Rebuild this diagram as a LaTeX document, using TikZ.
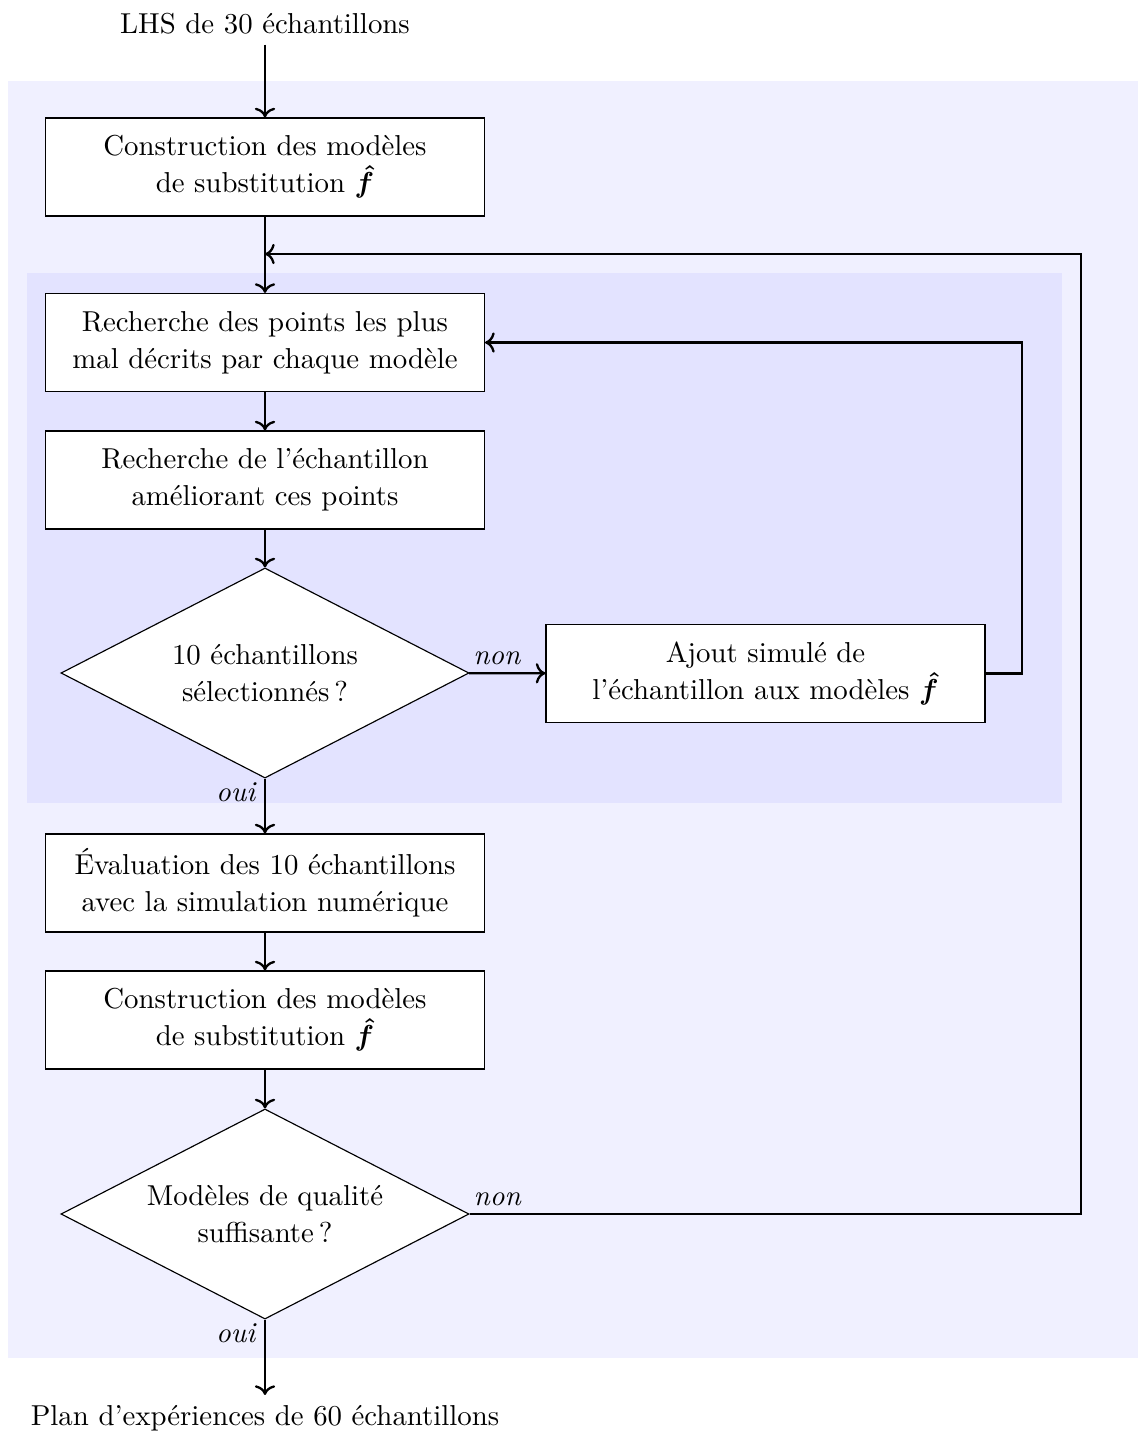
\documentclass[tikz,border=0pt]{standalone}
\usepackage{bm}
\usetikzlibrary{shapes.geometric,arrows.meta}
\begin{document}
\begin{tikzpicture}[x=0.347pt,y=-0.347pt,
  box/.style={draw,fill=white,thin,minimum width=152.3pt,minimum height=34pt,align=center,inner sep=0pt},
  dec/.style={draw,fill=white,diamond,thin,minimum width=141.6pt,minimum height=72.9pt,align=center,inner sep=0pt,aspect=2},
  conn/.style={thick,->},
  nolab/.style={font=\itshape,anchor=south west,inner xsep=1pt,inner ysep=2.5pt},
  yeslab/.style={font=\itshape,anchor=north east,inner xsep=3pt,inner ysep=1pt}]
\useasboundingbox (0,0) rectangle (1138,1432);
\fill[blue!6] (8,81) rectangle (1138,1358);
\fill[blue!11] (27,273) rectangle (1062,803);

\node (lhs) at (265,24) {LHS de 30 échantillons};
\node[box] (b1) at (265,167) {Construction des modèles\\[0.8pt]de substitution $\bm{\hat{f}}$};
\node[box] (b2) at (265,342.5) {Recherche des points les plus\\[0.8pt]mal décrits par chaque modèle};
\node[box] (b3) at (265,480) {Recherche de l'échantillon\\[0.8pt]améliorant ces points};
\node[dec] (d1) at (265,673) {10 échantillons\\[0.8pt]sélectionnés\thinspace?};
\node[box] (b4) at (765.5,673.5) {Ajout simulé de\\[0.8pt]l'échantillon aux modèles $\bm{\hat{f}}$};
\node[box] (b5) at (265,883) {Évaluation des 10 échantillons\\[0.8pt]avec la simulation numérique};
\node[box] (b6) at (265,1020) {Construction des modèles\\[0.8pt]de substitution $\bm{\hat{f}}$};
\node[dec] (d2) at (265,1214) {Modèles de qualité\\[0.8pt]suffisante\thinspace?};
\node (plan) at (265,1418) {Plan d'expériences de 60 échantillons};

\coordinate (j) at (265,254);
\coordinate (c1) at (1022,342.5);
\coordinate (c2) at (1081,254);

\draw[conn] (lhs) -- (b1);
\draw[conn] (b1) -- (b2);
\draw[conn] (b2) -- (b3);
\draw[conn] (b3) -- (d1);
\draw[conn] (d1) -- node[pos=0,nolab] {non} (b4);
\draw[conn] (b4.east) -| (c1) -- (b2.east);
\draw[conn] (d1) -- node[pos=0,yeslab] {oui} (b5);
\draw[conn] (b5) -- (b6);
\draw[conn] (b6) -- (d2);
\draw[conn] (d2.east) node[nolab] {non} -| (c2) -- (j);
\draw[conn] (d2) -- node[pos=0,yeslab] {oui} (plan);
\end{tikzpicture}
\end{document}
